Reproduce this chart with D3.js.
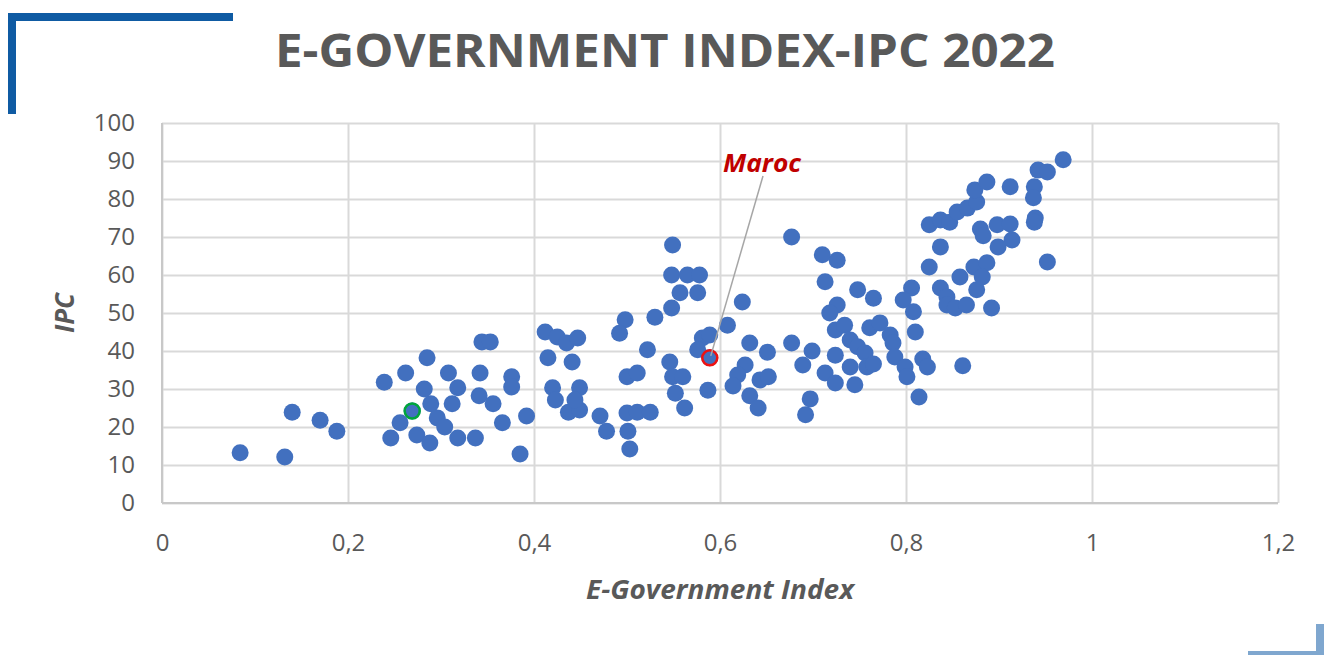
<!DOCTYPE html>
<html>
<head>
<meta charset="utf-8">
<script src="https://cdn.jsdelivr.net/npm/d3@7"></script>
<style>
  html, body { margin: 0; padding: 0; background: #fff; }
  svg { display: block; font-family: "Open Sans", sans-serif; }
</style>
</head>
<body>
<svg width="1328" height="655"></svg>
<script>
// E-Government Index (x) vs IPC (y), one point per country
var egovIndex = [
  0.084, 0.132, 0.140, 0.170, 0.188, 0.239, 0.246, 0.256, 0.262, 0.269,
  0.274, 0.282, 0.285, 0.288, 0.289, 0.296, 0.304, 0.308, 0.318, 0.312,
  0.318, 0.337, 0.342, 0.344, 0.353, 0.341, 0.356, 0.366, 0.376, 0.376,
  0.392, 0.385,
  0.412, 0.425, 0.435, 0.447, 0.415, 0.441, 0.420, 0.423, 0.449, 0.437,
  0.449, 0.444, 0.471, 0.478, 0.500, 0.511, 0.500, 0.511, 0.525, 0.501,
  0.503, 0.498, 0.492, 0.530, 0.522,
  0.549, 0.548, 0.565, 0.578, 0.557, 0.576, 0.548, 0.546, 0.549, 0.560,
  0.552, 0.562, 0.581, 0.589, 0.576, 0.589, 0.587, 0.608, 0.624, 0.632,
  0.651, 0.627, 0.619, 0.614, 0.643, 0.652, 0.632, 0.641,
  0.677, 0.710, 0.726, 0.713, 0.748, 0.765, 0.726, 0.718, 0.677, 0.699,
  0.689, 0.697, 0.692, 0.724, 0.734, 0.740, 0.724, 0.748, 0.756, 0.740,
  0.758, 0.765, 0.713, 0.724, 0.745, 0.761, 0.772, 0.783, 0.786, 0.788,
  0.799, 0.801, 0.814, 0.810, 0.818, 0.823, 0.861,
  0.806, 0.797, 0.808, 0.837, 0.844, 0.844, 0.853, 0.865, 0.858, 0.876,
  0.892, 0.825, 0.837, 0.873, 0.887, 0.882, 0.952, 0.825, 0.837, 0.847,
  0.855, 0.866, 0.876, 0.874, 0.887, 0.912, 0.880, 0.883, 0.898, 0.912,
  0.914, 0.899, 0.938, 0.937, 0.939, 0.938, 0.942, 0.952, 0.969
];
var ipcScore = [
  13.2, 12.1, 23.9, 21.8, 18.9, 31.8, 17.1, 21.1, 34.2, 24.2,
  17.9, 30.0, 38.2, 15.8, 26.1, 22.4, 20.0, 34.2, 30.3, 26.1,
  17.1, 17.1, 34.2, 42.4, 42.4, 28.2, 26.1, 21.1, 33.2, 30.5,
  22.9, 12.9,
  45.0, 43.7, 42.1, 43.4, 38.2, 37.1, 30.3, 27.1, 30.3, 23.9,
  24.5, 27.1, 22.9, 18.9, 33.2, 34.2, 23.7, 23.9, 23.9, 18.9,
  14.2, 48.2, 44.7, 48.9, 40.3,
  67.9, 60.0, 60.0, 60.0, 55.3, 55.3, 51.3, 37.1, 33.2, 33.2,
  28.9, 25.0, 43.4, 44.2, 40.3, 38.2, 29.7, 46.8, 52.9, 42.1,
  39.7, 36.3, 33.7, 30.8, 32.4, 33.2, 28.2, 25.0,
  70.0, 65.3, 63.9, 58.2, 56.1, 53.9, 52.1, 50.0, 42.1, 40.0,
  36.3, 27.4, 23.2, 45.5, 46.8, 42.9, 38.9, 41.1, 39.5, 35.8,
  35.8, 36.6, 34.2, 31.6, 31.1, 46.1, 47.4, 44.2, 42.1, 38.4,
  35.8, 33.2, 27.9, 45.0, 37.9, 35.8, 36.1,
  56.6, 53.4, 50.3, 56.6, 54.2, 52.1, 51.3, 52.1, 59.5, 56.1,
  51.3, 62.1, 67.4, 62.1, 63.2, 59.5, 63.4, 73.2, 74.5, 73.9,
  76.6, 77.6, 79.2, 82.4, 84.5, 83.2, 72.1, 70.3, 73.2, 73.4,
  69.2, 67.4, 83.2, 80.3, 75.0, 73.9, 87.6, 87.1, 90.3
];

// highlighted countries
var marocPoint = [0.589, 38.2];
var greenPoint = [0.269, 24.2];

var xTicks = [0, 0.2, 0.4, 0.6, 0.8, 1, 1.2];
var yTicks = [0, 10, 20, 30, 40, 50, 60, 70, 80, 90, 100];

var svg = d3.select("svg");
var plotLeft = 162, plotRight = 1278, plotTop = 123, plotBottom = 503;
var textGray = "#595959";
var dotBlue = "#4270bf";

var x = d3.scaleLinear().domain([0, 1.2]).range([plotLeft, plotRight]);
var y = d3.scaleLinear().domain([0, 100]).range([plotBottom, plotTop]);

// corner decorations
svg.append("rect").attr("x", 8).attr("y", 13).attr("width", 225).attr("height", 8).attr("fill", "#0f5ba3");
svg.append("rect").attr("x", 8).attr("y", 13).attr("width", 8).attr("height", 101).attr("fill", "#0f5ba3");
svg.append("rect").attr("x", 1316).attr("y", 624).attr("width", 8).attr("height", 31).attr("fill", "#7fa7cf");
svg.append("rect").attr("x", 1248).attr("y", 651).attr("width", 76).attr("height", 4).attr("fill", "#7fa7cf");

// title
svg.append("text")
    .attr("x", 665)
    .attr("y", 67)
    .attr("text-anchor", "middle")
    .attr("font-size", 46)
    .attr("font-weight", "bold")
    .attr("fill", textGray)
    .attr("textLength", 780)
    .attr("lengthAdjust", "spacingAndGlyphs")
    .text("E-GOVERNMENT INDEX-IPC 2022");

// axes with grid lines
var xAxis = svg.append("g")
    .attr("transform", "translate(0," + plotBottom + ")")
    .call(d3.axisBottom(x)
        .tickValues(xTicks)
        .tickSize(-(plotBottom - plotTop))
        .tickPadding(31)
        .tickFormat(function(d) { return String(d).replace(".", ","); }));

var yAxis = svg.append("g")
    .attr("transform", "translate(" + plotLeft + ",0)")
    .call(d3.axisLeft(y)
        .tickValues(yTicks)
        .tickSize(-(plotRight - plotLeft))
        .tickPadding(27));

[xAxis, yAxis].forEach(function(g) {
    g.select(".domain").remove();
    g.selectAll(".tick line").attr("stroke", "#d9d9d9").attr("stroke-width", 2);
    g.selectAll(".tick text")
        .attr("fill", textGray)
        .attr("font-size", 24)
        .attr("font-family", "'Open Sans', sans-serif");
});

// axis baselines slightly darker
svg.append("line").attr("x1", plotLeft).attr("x2", plotRight).attr("y1", plotBottom).attr("y2", plotBottom)
    .attr("stroke", "#c8c8c8").attr("stroke-width", 2);
svg.append("line").attr("x1", plotLeft).attr("x2", plotLeft).attr("y1", plotTop).attr("y2", plotBottom)
    .attr("stroke", "#c8c8c8").attr("stroke-width", 2);

// axis titles
svg.append("text")
    .attr("x", (plotLeft + plotRight) / 2)
    .attr("y", 599)
    .attr("text-anchor", "middle")
    .attr("font-size", 26)
    .attr("font-weight", "bold")
    .attr("font-style", "italic")
    .attr("fill", textGray)
    .attr("textLength", 268)
    .attr("lengthAdjust", "spacingAndGlyphs")
    .text("E-Government Index");

svg.append("text")
    .attr("transform", "translate(74," + ((plotTop + plotBottom) / 2) + ") rotate(-90)")
    .attr("text-anchor", "middle")
    .attr("font-size", 26)
    .attr("font-weight", "bold")
    .attr("font-style", "italic")
    .attr("fill", textGray)
    .text("IPC");

// points
svg.append("g")
    .selectAll("circle")
    .data(d3.range(egovIndex.length))
    .enter().append("circle")
    .attr("cx", function(i) { return x(egovIndex[i]); })
    .attr("cy", function(i) { return y(ipcScore[i]); })
    .attr("r", 8.5)
    .attr("fill", dotBlue);

// highlight rings
svg.append("circle")
    .attr("cx", x(greenPoint[0])).attr("cy", y(greenPoint[1]))
    .attr("r", 7.5).attr("fill", "none")
    .attr("stroke", "#00a63c").attr("stroke-width", 2.5);

svg.append("circle")
    .attr("cx", x(marocPoint[0])).attr("cy", y(marocPoint[1]))
    .attr("r", 7.5).attr("fill", "none")
    .attr("stroke", "#ee1111").attr("stroke-width", 2.5);

// Maroc label with leader line
svg.append("line")
    .attr("x1", 763).attr("y1", 176)
    .attr("x2", x(marocPoint[0]) + 1).attr("y2", y(marocPoint[1]) - 2)
    .attr("stroke", "#a6a6a6").attr("stroke-width", 1.5);

svg.append("text")
    .attr("x", 762)
    .attr("y", 172)
    .attr("text-anchor", "middle")
    .attr("font-size", 25)
    .attr("font-weight", "bold")
    .attr("font-style", "italic")
    .attr("fill", "#c00000")
    .attr("textLength", 78)
    .attr("lengthAdjust", "spacingAndGlyphs")
    .text("Maroc");
</script>
</body>
</html>
